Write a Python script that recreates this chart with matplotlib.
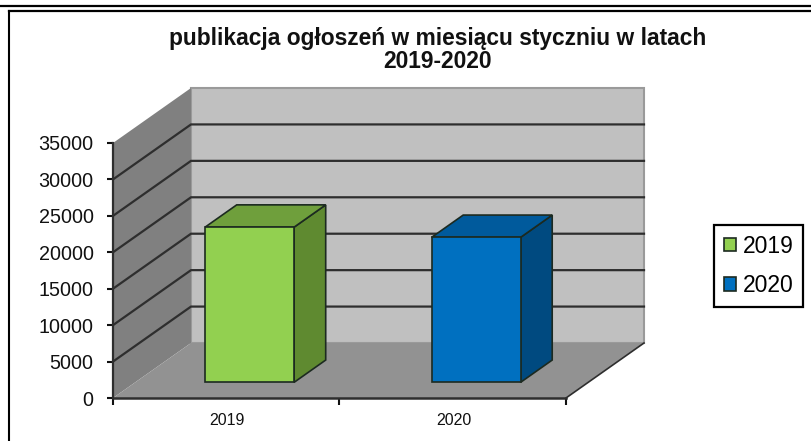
import matplotlib
matplotlib.use("Agg")
import matplotlib.pyplot as plt
from matplotlib.lines import Line2D

plt.rcParams['font.family'] = ['Liberation Sans', 'DejaVu Sans']

title = "publikacja ogłoszeń w miesiącu styczniu w latach\n2019-2020"
categories = ["2019", "2020"]
values = [21300, 19900]
y_ticks = [0, 5000, 10000, 15000, 20000, 25000, 30000, 35000]

W, H = 812, 441
fig = plt.figure(figsize=(W/100, H/100), dpi=100, facecolor='white')
L, R, T, B = 113, 566, 143, 398
ax = fig.add_axes([L/W, 1-B/H, (R-L)/W, (B-T)/H])
ax.set_xlim(0, 2)
ax.set_ylim(0, 35000)
ax.patch.set_alpha(0)
for s in ax.spines.values():
    s.set_visible(False)

# depth of the 3D box, in data units
DX = 78/(R-L)*2
DY = 55/(B-T)*35000
YMAX = 35000
LINE = '#2e2e2e'

# walls and floor
ax.fill([DX, 2+DX, 2+DX, DX], [DY, DY, YMAX+DY, YMAX+DY], fc='#c0c0c0', ec='#9a9a9a', lw=1.5, clip_on=False, zorder=1)
ax.fill([0, DX, DX, 0], [0, DY, YMAX+DY, YMAX], fc='#808080', ec='none', clip_on=False, zorder=1)
ax.fill([0, 2, 2+DX, DX], [0, 0, DY, DY], fc='#929292', ec='none', clip_on=False, zorder=2)

# grid lines (none at the top of the box)
for v in y_ticks[1:-1]:
    ax.plot([0, DX, 2+DX], [v, v+DY, v+DY], color=LINE, lw=1.6, clip_on=False, zorder=2, solid_joinstyle='miter')
ax.plot([2, 2+DX], [0, DY], color=LINE, lw=1.2, clip_on=False, zorder=3)

# bars
d1, d2 = 0.285, 0.69
bw = 89/(R-L)*2
centers = [0.505, 1.505]
fronts = ['#92d050', '#0070c0']
tops = ['#6f9f3c', '#005a9c']
sides = ['#5f8a30', '#004a80']
edge = '#1c2a20'
for c, v, lab, f, tp, sd in zip(centers, values, categories, fronts, tops, sides):
    x0 = c + d1*DX - bw/2
    x1 = x0 + bw
    y0 = d1*DY
    ddx, ddy = (d2-d1)*DX, (d2-d1)*DY
    ax.fill([x1, x1+ddx, x1+ddx, x1], [y0, y0+ddy, y0+ddy+v, y0+v], fc=sd, ec=edge, lw=1.2, clip_on=False, zorder=4)
    ax.fill([x0, x1, x1+ddx, x0+ddx], [y0+v, y0+v, y0+v+ddy, y0+v+ddy], fc=tp, ec=edge, lw=1.2, clip_on=False, zorder=4)
    ax.bar(x0+bw/2, v, width=bw, bottom=y0, color=f, edgecolor=edge, lw=1.2, label=lab, clip_on=False, zorder=5)

# axes
for side, lw in (('left', 1.6), ('bottom', 1.8)):
    ax.spines[side].set_visible(True)
    ax.spines[side].set_linewidth(lw)
    ax.spines[side].set_color(LINE)
    ax.spines[side].set_zorder(6)

ax.set_yticks(y_ticks)
ax.set_yticklabels([str(v) for v in y_ticks], fontsize=14.2, color='#111111')
ax.tick_params(axis='y', length=4, width=1.5, pad=10, color='#111111')
ax.set_xticks([0, 1, 2])
ax.set_xticklabels([])
ax.tick_params(axis='x', length=5, width=1.5, direction='out', color='#111111')
ax.set_xticks(centers, minor=True)
ax.set_xticklabels(categories, minor=True, fontsize=11.5, color='#111111')
ax.tick_params(axis='x', which='minor', length=0, pad=11)

# title
fig.text(438/W, 1-27/H, title, ha='center', va='top', fontsize=16.4, fontweight='bold', color='#111111', linespacing=1.0)

# legend
leg = ax.legend(loc='upper left', bbox_to_anchor=(714/W, 1-225/H), bbox_transform=fig.transFigure,
                fontsize=16.5, frameon=True, fancybox=False, framealpha=1, edgecolor='black',
                handlelength=0.52, handleheight=0.52, handletextpad=0.3, labelspacing=0.72,
                borderpad=0.42, borderaxespad=0)
leg.get_frame().set_linewidth(1.6)
leg.set_zorder(10)

# page rules around the chart
fig.add_artist(Line2D([0, 1], [1-5.5/H, 1-5.5/H], color='black', lw=1.6, transform=fig.transFigure))
fig.add_artist(Line2D([9.5/W, 1], [1-11/H, 1-11/H], color='black', lw=1.6, transform=fig.transFigure))
fig.add_artist(Line2D([9.5/W, 9.5/W], [1-11/H, 0], color='black', lw=1.5, transform=fig.transFigure))

fig.savefig('out.png', dpi=100)
